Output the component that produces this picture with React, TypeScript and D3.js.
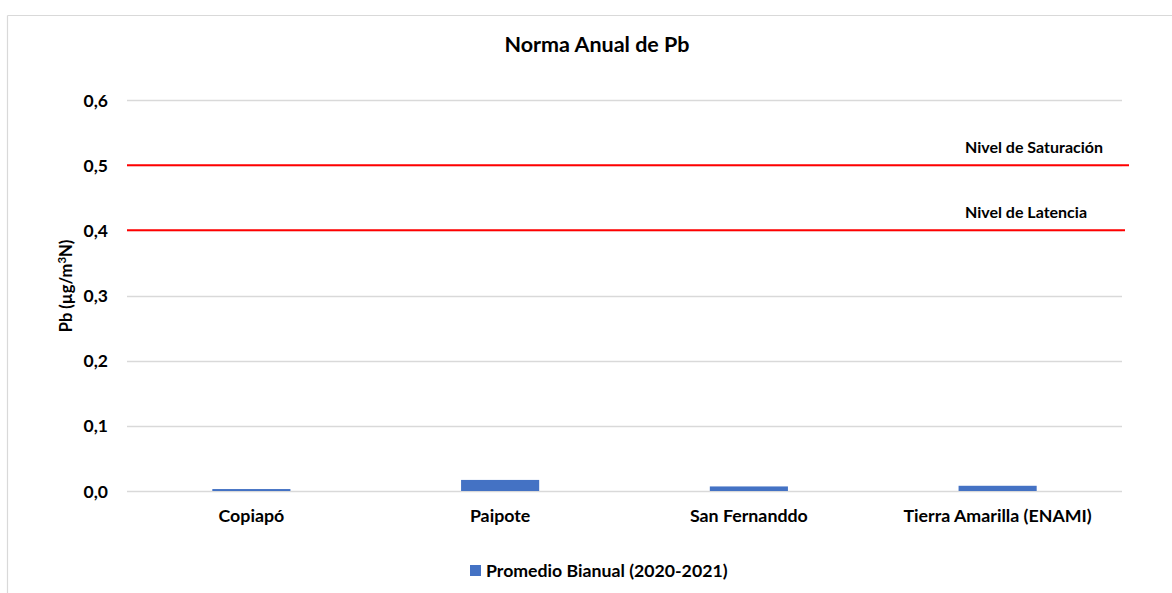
import React from "react";
import * as d3 from "d3";

const categories = ["Copiapó", "Paipote", "San Fernanddo", "Tierra Amarilla (ENAMI)"];
const values = [0.003, 0.017, 0.007, 0.008];
const yTicks = [0, 0.1, 0.2, 0.3, 0.4, 0.5, 0.6];
const thresholdNames = ["Nivel de Saturación", "Nivel de Latencia"];
const thresholdValues = [0.5, 0.4];
const seriesName = "Promedio Bianual (2020-2021)";
const title = "Norma Anual de Pb";

const W = 1172;
const H = 593;
const FONT = "Lato, 'Open Sans', sans-serif";

export default function App() {
  const left = 127, right = 1122, top = 100, bottom = 491;
  const x = d3.scaleBand<string>().domain(categories).range([left, right]).paddingInner(0.686).paddingOuter(0.343);
  const band = d3.scaleBand<string>().domain(categories).range([left, right]);
  const y = d3.scaleLinear().domain([0, 0.6]).range([bottom, top]);
  const fmt = (v: number) => d3.format(".1f")(v).replace(".", ",");
  const lineExtra = [7, 3];
  const labelEnd = [19, 35];

  return (
    <svg width={W} height={H} style={{ position: "absolute", left: 0, top: 0, background: "#fff" }} fontFamily={FONT}>
      <rect x={0} y={0} width={W} height={H} fill="#fff" />
      <line x1={7.5} y1={15.5} x2={W} y2={15.5} stroke="#d9d9d9" strokeWidth={1.2} />
      <line x1={7.5} y1={15.5} x2={7.5} y2={H} stroke="#d9d9d9" strokeWidth={1.2} />
      <text x={597} y={52} textAnchor="middle" fontWeight="bold" fontSize={21.5} fill="#000">{title}</text>
      {yTicks.map((t) => (
        <line key={t} x1={left} x2={right} y1={Math.round(y(t)) + 0.5} y2={Math.round(y(t)) + 0.5} stroke="#d9d9d9" strokeWidth={1.3} />
      ))}
      {yTicks.map((t) => (
        <text key={"l" + t} x={108} y={y(t) + 6.5} textAnchor="end" fontWeight="bold" fontSize={17.5} fill="#000">{fmt(t)}</text>
      ))}
      {categories.map((c, i) => (
        <rect key={c} x={x(c)!} y={y(values[i])} width={x.bandwidth()} height={y(0) - y(values[i])} fill="#4472c4" />
      ))}
      {thresholdValues.map((v, i) => (
        <g key={thresholdNames[i]}>
          <line x1={left} x2={right + lineExtra[i]} y1={y(v)} y2={y(v)} stroke="#ff0000" strokeWidth={2} />
          <text x={right - labelEnd[i]} y={y(v) - 12.5} textAnchor="end" fontWeight="bold" fontSize={16} fill="#000">{thresholdNames[i]}</text>
        </g>
      ))}
      {categories.map((c) => (
        <text key={"c" + c} x={band(c)! + band.bandwidth() / 2} y={522} textAnchor="middle" fontWeight="bold" fontSize={17.8} fill="#000">{c}</text>
      ))}
      <text transform={`translate(72,286) rotate(-90)`} textAnchor="middle" fontWeight="bold" fontSize={16.5} fill="#000">
        Pb (µg/m<tspan dy={-6} fontSize={11.5}>3</tspan><tspan dy={6}>N)</tspan>
      </text>
      <rect x={470} y={565} width={11} height={11} fill="#4472c4" />
      <text x={486} y={577} fontWeight="bold" fontSize={17.7} fill="#000">{seriesName}</text>
    </svg>
  );
}
